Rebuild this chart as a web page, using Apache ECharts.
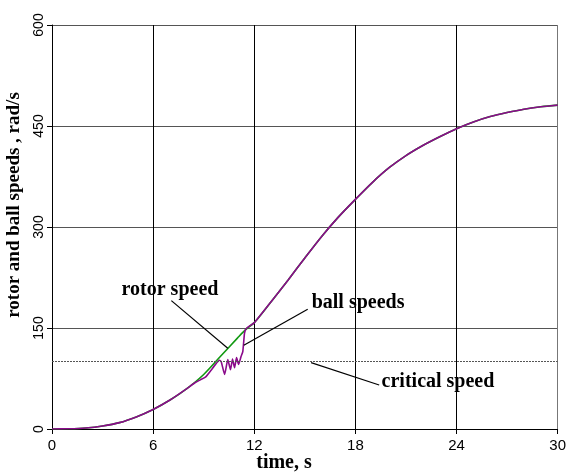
<!DOCTYPE html>
<html><head><meta charset="utf-8">
<script src="https://cdn.jsdelivr.net/npm/echarts@6/dist/echarts.min.js"></script>
<style>html,body{margin:0;padding:0;background:#fff}#c{width:569px;height:475px}</style>
</head><body><div id="c"></div>
<script>
// time (s) and speeds (rad/s)
const rotorT = [0,1,2,3,4,5,6,7,8,9,10,11,11.5,12,13,14,15,16,17,18,19,20,21,22,23,24,25,26,27,28,29,30];
const rotorV = [0,0.3,1.5,4.5,9.5,18,29,43,60,81,108,135,148,158,189,221,254,286,315,341,366,388,406,421,434,446,456,464,470,475,478.5,481];
const ballT = [0,1,2,3,4,5,6,7,8,8.5,8.8,9.1,9.4,9.7,9.94,10.04,10.24,10.43,10.59,10.71,10.83,10.95,11.07,11.22,11.32,11.42,11.52,11.72,12.01,13,14,15,16,17,18,19,20,21,22,23,24,25,26,27,28,29,30];
const ballV = [0,0.3,1.5,4.5,9.5,18,29,43,60,69,73,77,86,96,102,100,81,103,88,104,91,106,96,108,115,142,149,153,158,189,221,254,286,315,341,366,388,406,421,434,446,456,464,470,475,478.5,481];
const criticalSpeed = 100;
const xTicks = [0,6,12,18,24,30];
const yTicks = [0,150,300,450,600];

const zip = (a,b) => a.map((t,i)=>[t,b[i]]);
const chart = echarts.init(document.getElementById('c'), null, {renderer:'canvas'});
const serifBold = {fontFamily:'Liberation Serif', fontWeight:'bold', fontSize:20, fill:'#000'};
chart.setOption({
  animation:false,
  grid:{left:52, right:10, top:25, bottom:46},
  xAxis:{type:'value', min:xTicks[0], max:xTicks[xTicks.length-1], interval:6,
    axisLine:{lineStyle:{color:'#000', width:1}},
    axisTick:{show:true, length:5, lineStyle:{color:'#000'}},
    axisLabel:{color:'#000', fontFamily:'Liberation Sans', fontSize:15, margin:9},
    splitLine:{show:true, lineStyle:{color:['#000','#000','#000','#000','#000','#777'], width:1}}},
  yAxis:{type:'value', min:yTicks[0], max:yTicks[yTicks.length-1], interval:150,
    axisLine:{show:true, lineStyle:{color:'#000', width:1}},
    axisTick:{show:true, length:5, lineStyle:{color:'#000'}},
    axisLabel:{show:false},
    splitLine:{show:true, lineStyle:{color:'#555', width:1}}},
  series:[
    {type:'line', data:zip(rotorT, rotorV), showSymbol:false, smooth:0.3,
     lineStyle:{color:'#119911', width:1.6}, z:3},
    {type:'line', data:zip(ballT, ballV), showSymbol:false, smooth:0.15,
     lineStyle:{color:'#8b0a8b', width:1.6}, z:4,
     markLine:{silent:true, symbol:'none', label:{show:false},
       lineStyle:{color:'#555', type:[2,1], width:1},
       data:[{yAxis:criticalSpeed}]}}
  ]
});

const P = (t,v) => chart.convertToPixel({gridIndex:0}, [t,v]);
const seg = (a,b) => ({type:'line', shape:{x1:a[0],y1:a[1],x2:b[0],y2:b[1]}, style:{stroke:'#000', lineWidth:1.2}, z:10});
const txt = (s, p) => ({type:'text', x:p[0], y:p[1], style:Object.assign({text:s, align:'center', verticalAlign:'middle'}, serifBold), z:10});
const yLabels = yTicks.map(v => {
  const p = P(0, v);
  return {type:'text', x:p[0]-13, y:p[1], rotation:Math.PI/2,
    style:{text:String(v), align:'center', verticalAlign:'middle', fontFamily:'Liberation Sans', fontSize:14, fill:'#000'}};
});
chart.setOption({graphic:[
  seg(P(7.08,190.6), P(10.43,119.9)),
  seg(P(15.17,177.8), P(11.38,124.3)),
  seg(P(15.37,98.6), P(19.41,65.4)),
  txt('rotor speed', P(7.0,207)),
  txt('ball speeds', P(18.16,188)),
  txt('critical speed', P(22.9,70)),
  {type:'text', x:284, y:463, style:Object.assign({text:'time, s', align:'center', verticalAlign:'middle'}, serifBold)},
  {type:'text', x:14, y:205, rotation:Math.PI/2, style:Object.assign({text:'rotor and ball speeds , rad/s', align:'center', verticalAlign:'middle'}, serifBold, {fontSize:19})}
].concat(yLabels)});
</script></body></html>
